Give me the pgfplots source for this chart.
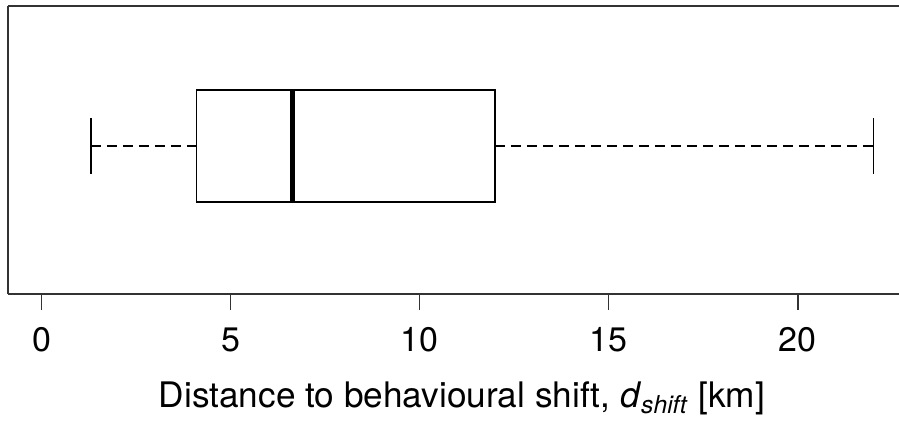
\documentclass[border=0pt]{standalone}
\usepackage{fontspec}
\setmainfont{TeX Gyre Heros}
\usepackage{pgfplots}
\pgfplotsset{compat=1.18}
\usepgfplotslibrary{statistics}
\begin{document}
\begin{tikzpicture}
\useasboundingbox (0,0) rectangle (449.5pt,210.5pt);
\begin{axis}[
  at={(4pt,63.5pt)}, anchor=south west,
  scale only axis, width=445.5pt, height=144pt,
  xmin=-0.89, xmax=22.68, ymin=0, ymax=1,
  axis lines*=left,
  axis line style={-, line width=0.8pt, black!80},
  ytick=\empty,
  xtick={0,5,10,15,20},
  tick align=outside,
  major tick length=8pt,
  every tick/.style={black!80, line width=0.8pt},
  /pgf/number format/assume math mode=true,
  tick label style={font=\fontsize{17}{20}\selectfont},
  xticklabel style={anchor=base, yshift=-20.65pt},
  xlabel={Distance to behavioural shift, \textit{d}\textsubscript{\textit{shift}} [km]},
  xlabel style={at={(axis description cs:0.5095,0)}, anchor=base, yshift=-56.85pt, font=\fontsize{17.6}{20}\selectfont},
  boxplot/draw direction=x,
  clip=false,
]
\addplot+[black, line width=0.8pt, mark=none, solid,
  boxplot prepared={lower whisker=1.30, lower quartile=4.10, median=6.64,
    upper quartile=12.0, upper whisker=22.0,
    draw position=0.514, box extend=0.388, whisker extend=0.195},
  boxplot/every median/.style={line width=2.3pt, black},
  boxplot/draw/lower whisker/.code={%
    \draw[black, line width=0.8pt, dash pattern=on 5pt off 3pt]
      (boxplot cs:\pgfplotsboxplotvalue{lower whisker}) --
      (boxplot cs:\pgfplotsboxplotvalue{lower quartile});
    \draw[black, line width=0.8pt]
      (boxplot whisker cs:\pgfplotsboxplotvalue{lower whisker},0) --
      (boxplot whisker cs:\pgfplotsboxplotvalue{lower whisker},1);
  },
  boxplot/draw/upper whisker/.code={%
    \draw[black, line width=0.8pt, dash pattern=on 5pt off 3pt]
      (boxplot cs:\pgfplotsboxplotvalue{upper quartile}) --
      (boxplot cs:\pgfplotsboxplotvalue{upper whisker});
    \draw[black, line width=0.8pt]
      (boxplot whisker cs:\pgfplotsboxplotvalue{upper whisker},0) --
      (boxplot whisker cs:\pgfplotsboxplotvalue{upper whisker},1);
  },
] coordinates {};
\draw[line width=0.8pt, black!80] (rel axis cs:0,1) -- (rel axis cs:1,1);
\end{axis}
\end{tikzpicture}
\end{document}
